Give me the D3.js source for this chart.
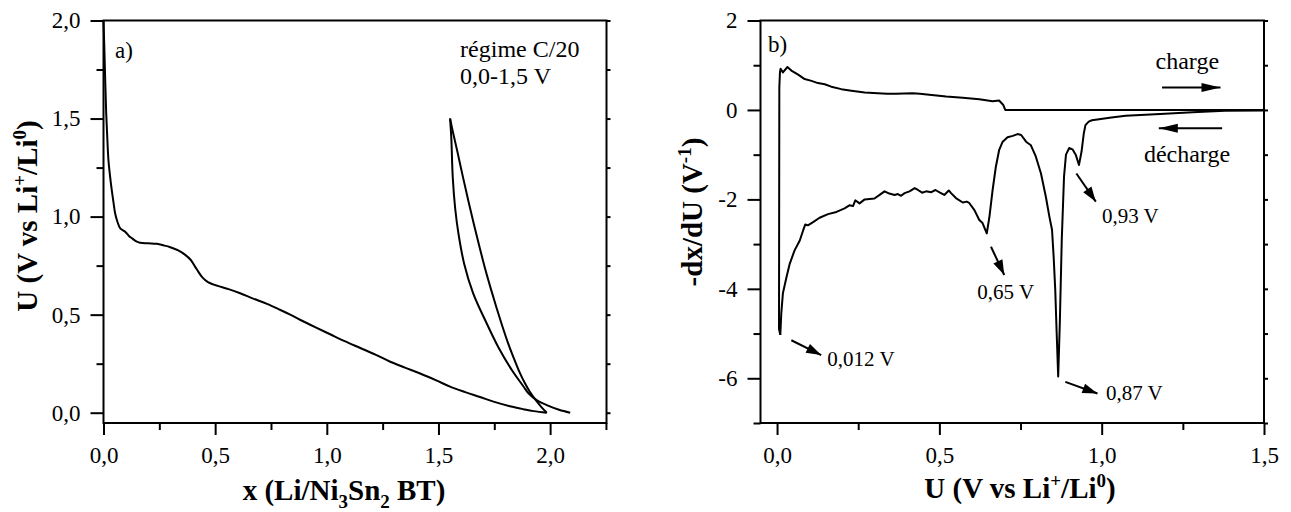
<!DOCTYPE html>
<html>
<head>
<meta charset="utf-8">
<script src="https://cdn.jsdelivr.net/npm/d3@7"></script>
<style>
  html, body { margin: 0; padding: 0; background: #fff; }
  svg { display: block; }
  text { font-family: "Liberation Serif", "Times New Roman", serif; fill: #000; }
</style>
</head>
<body>
<svg id="chart" width="1291" height="512"></svg>
<script>
// ---------------- DATA ----------------
// Panel a) : galvanostatic curve U vs x
const firstDischarge = [
  [0,2.0],[0.004,1.85],[0.008,1.68],[0.012,1.53],[0.017,1.40],[0.022,1.29],[0.03,1.20],[0.037,1.135],
  [0.045,1.07],[0.052,1.017],[0.062,0.975],[0.075,0.94],[0.097,0.923],[0.115,0.90],[0.127,0.89],
  [0.145,0.875],[0.164,0.867],[0.2,0.864],[0.239,0.861],[0.27,0.853],[0.299,0.844],[0.335,0.828],
  [0.366,0.805],[0.39,0.78],[0.41,0.745],[0.425,0.718],[0.44,0.694],[0.455,0.677],[0.47,0.665],
  [0.508,0.648],[0.56,0.63],[0.612,0.609],[0.67,0.582],[0.732,0.555],[0.79,0.525],[0.836,0.50],
  [0.88,0.474],[0.95,0.435],[1.015,0.40],[1.08,0.365],[1.15,0.33],[1.22,0.295],[1.284,0.26],
  [1.35,0.23],[1.418,0.20],[1.49,0.165],[1.552,0.133],[1.62,0.105],[1.686,0.08],[1.75,0.055],
  [1.82,0.033],[1.88,0.018],[1.926,0.008],[1.985,0.0]
];
const firstCharge = [
  [1.985,0.0],[1.96,0.03],[1.935,0.065],[1.91,0.105],[1.885,0.155],[1.86,0.215],[1.835,0.285],
  [1.81,0.36],[1.785,0.445],[1.76,0.535],[1.735,0.63],[1.71,0.73],[1.685,0.84],[1.66,0.955],
  [1.635,1.075],[1.61,1.2],[1.585,1.33],[1.565,1.43],[1.552,1.50]
];
const secondDischarge = [
  [1.552,1.50],[1.555,1.45],[1.558,1.39],[1.564,1.2],[1.575,1.04],[1.59,0.91],[1.615,0.76],
  [1.655,0.61],[1.71,0.47],[1.77,0.33],[1.83,0.215],[1.88,0.135],[1.903,0.099],[1.945,0.06],[1.985,0.039],
  [2.04,0.015],[2.09,0.0]
];
const xTicksA = [0, 0.5, 1.0, 1.5, 2.0];
const xMinorA = [0.25, 0.75, 1.25, 1.75, 2.25];
const yTicksA = [0, 0.5, 1.0, 1.5, 2.0];
const yMinorA = [0.25, 0.75, 1.25, 1.75];

// Panel b) : derivative -dx/dU vs U
const dischargeDeriv = [
  [1.5,-0.01],[1.38,-0.02],[1.28,-0.05],[1.18,-0.09],[1.074,-0.13],[1.03,-0.17],[0.992,-0.21],
  [0.97,-0.23],[0.96,-0.26],[0.95,-0.34],[0.945,-0.52],[0.938,-0.93],[0.93,-1.23],[0.92,-1.0],
  [0.91,-0.88],[0.90,-0.85],[0.89,-1.0],[0.884,-1.49],[0.877,-2.91],[0.871,-4.77],[0.866,-5.96],
  [0.861,-4.92],[0.857,-4.03],[0.852,-3.28],[0.847,-2.68],[0.839,-2.39],[0.828,-1.94],[0.813,-1.42],
  [0.797,-1.04],[0.782,-0.79],[0.767,-0.71],[0.752,-0.56],[0.741,-0.54],[0.726,-0.58],[0.71,-0.61],
  [0.695,-0.71],[0.684,-0.90],[0.674,-1.27],[0.664,-1.79],[0.654,-2.4],[0.646,-2.76],[0.633,-2.53],
  [0.623,-2.46],[0.608,-2.24],[0.592,-2.08],[0.584,-2.05],[0.572,-2.07],[0.551,-1.97],[0.536,-1.86],
  [0.529,-1.80],[0.515,-1.90],[0.502,-1.85],[0.488,-1.79],[0.475,-1.84],[0.459,-1.82],[0.447,-1.85],
  [0.434,-1.79],[0.424,-1.75],[0.408,-1.82],[0.393,-1.86],[0.382,-1.92],[0.372,-1.88],[0.362,-1.90],
  [0.346,-1.87],[0.331,-1.82],[0.316,-1.90],[0.30,-1.98],[0.27,-2.0],[0.254,-2.09],[0.241,-2.02],
  [0.234,-2.15],[0.224,-2.13],[0.208,-2.20],[0.183,-2.28],[0.157,-2.33],[0.131,-2.41],[0.111,-2.51],
  [0.095,-2.58],[0.087,-2.56],[0.080,-2.70],[0.070,-2.92],[0.054,-3.14],[0.039,-3.44],[0.029,-3.74],
  [0.018,-4.1],[0.013,-4.55],[0.010,-5.03]
];
const chargeDeriv = [
  [0.010,-5.03],[0.006,-4.9],[0.007,0.5],[0.009,0.85],[0.011,0.92],[0.018,0.84],[0.032,0.96],
  [0.044,0.88],[0.065,0.79],[0.085,0.69],[0.106,0.65],[0.126,0.60],[0.147,0.575],[0.167,0.52],
  [0.198,0.465],[0.229,0.43],[0.27,0.39],[0.31,0.376],[0.34,0.36],[0.367,0.36],[0.39,0.37],
  [0.418,0.375],[0.44,0.36],[0.469,0.34],[0.521,0.30],[0.572,0.27],[0.623,0.24],[0.664,0.195],
  [0.684,0.21],[0.697,0.11],[0.703,0.0],[1.5,0.0]
];
const xTicksB = [0, 0.5, 1.0, 1.5];
const xMinorB = [0.25, 0.75, 1.25];
const yTicksB = [2, 0, -2, -4, -6];
const yMinorB = [1, -1, -3, -5, -7];

// Peak annotations: label, arrow start (U,v), arrow end (U,v), text anchor (U,v)
const peakLabels = ["0,012 V", "0,65 V", "0,87 V", "0,93 V"];
const peakArrows = [
  [0.044,-5.15, 0.136,-5.48, 0.155,-5.73],
  [0.659,-3.06, 0.700,-3.69, 0.617,-4.23],
  [0.888,-6.08, 0.987,-6.34, 1.013,-6.49],
  [0.922,-1.42, 0.982,-2.05, 1.001,-2.53]
];

// ---------------- DRAW ----------------
const svg = d3.select("#chart");
svg.append("rect").attr("width", 1291).attr("height", 512).attr("fill", "#fff");

// arrowhead drawn as a polygon at the end of each arrow line
function arrow(g, x1, y1, x2, y2, headLen, headW) {
  g.append("line").attr("x1", x1).attr("y1", y1).attr("x2", x2).attr("y2", y2)
    .attr("stroke", "#000").attr("stroke-width", 2);
  const ang = Math.atan2(y2 - y1, x2 - x1);
  const bx = x2 - headLen * Math.cos(ang), by = y2 - headLen * Math.sin(ang);
  const px = -Math.sin(ang) * headW / 2, py = Math.cos(ang) * headW / 2;
  g.append("path").attr("d", `M${x2},${y2}L${bx + px},${by + py}L${bx - px},${by - py}Z`).attr("fill", "#000");
}

const comma1 = d => d3.format(".1f")(d).replace(".", ",");

function panel(opts) {
  const { x0, x1, y0, y1, xDomain, yDomain, xTicks, xMinor, yTicks, yMinor, xFmt, yFmt } = opts;
  const x = d3.scaleLinear().domain(xDomain).range([x0, x1]);
  const y = d3.scaleLinear().domain(yDomain).range([y1, y0]);
  const g = svg.append("g");

  const bx = g.append("g").attr("transform", `translate(0,${y1})`);
  bx.append("g").call(d3.axisBottom(x).tickValues(xMinor).tickSize(7).tickFormat(""));
  bx.append("g").call(d3.axisBottom(x).tickValues(xTicks).tickSize(12).tickPadding(12).tickFormat(xFmt));
  const ly = g.append("g").attr("transform", `translate(${x0},0)`);
  ly.append("g").call(d3.axisLeft(y).tickValues(yMinor).tickSize(7).tickFormat(""));
  ly.append("g").call(d3.axisLeft(y).tickValues(yTicks).tickSize(13).tickPadding(10).tickFormat(yFmt));
  const ry = g.append("g").attr("transform", `translate(${x1},0)`);
  ry.append("g").call(d3.axisRight(y).tickValues(yTicks.concat(yMinor)).tickSize(4).tickFormat(""));

  g.selectAll(".domain").remove();
  g.selectAll(".tick line").attr("stroke", "#000").attr("stroke-width", 2);
  g.selectAll(".tick text")
    .style("font-family", '"Liberation Serif", "Times New Roman", serif')
    .style("font-size", "23px").attr("fill", "#000");

  g.append("rect").attr("x", x0).attr("y", y0).attr("width", x1 - x0).attr("height", y1 - y0)
    .attr("fill", "none").attr("stroke", "#000").attr("stroke-width", 2);
  return { x, y, g };
}

// ----- Panel a -----
const A = panel({
  x0: 103.5, x1: 606.5, y0: 20.5, y1: 423,
  xDomain: [0, 2.2525], yDomain: [-0.0525, 2.0],
  xTicks: xTicksA, xMinor: xMinorA, yTicks: yTicksA, yMinor: yMinorA,
  xFmt: comma1, yFmt: comma1
});
const lineA = d3.line().x(d => A.x(d[0])).y(d => A.y(d[1])).curve(d3.curveCatmullRom.alpha(0.5));
[firstDischarge, firstCharge, secondDischarge].forEach(s => {
  A.g.append("path").datum(s).attr("d", lineA)
    .attr("fill", "none").attr("stroke", "#000").attr("stroke-width", 2).attr("stroke-linejoin", "round");
});
A.g.append("text").attr("x", A.x(0.052)).attr("y", A.y(1.81)).style("font-size", "23px").text("a)");
A.g.append("text").attr("x", A.x(1.597)).attr("y", A.y(1.815)).style("font-size", "24px").text("régime C/20");
A.g.append("text").attr("x", A.x(1.597)).attr("y", A.y(1.677)).style("font-size", "24px").text("0,0-1,5 V");

const tA = A.g.append("text").attr("x", 344).attr("y", 500).attr("text-anchor", "middle")
  .style("font-size", "29px").style("font-weight", "bold");
tA.append("tspan").text("x (Li/Ni");
tA.append("tspan").attr("dy", 8).style("font-size", "19px").text("3");
tA.append("tspan").attr("dy", -8).text("Sn");
tA.append("tspan").attr("dy", 8).style("font-size", "19px").text("2");
tA.append("tspan").attr("dy", -8).text(" BT)");

const yA = A.g.append("text").attr("transform", "translate(37,216) rotate(-90)").attr("text-anchor", "middle")
  .style("font-size", "29px").style("font-weight", "bold");
yA.append("tspan").text("U (V vs Li");
yA.append("tspan").attr("dy", -11).style("font-size", "19px").text("+");
yA.append("tspan").attr("dy", 11).text("/Li");
yA.append("tspan").attr("dy", -11).style("font-size", "19px").text("0");
yA.append("tspan").attr("dy", 11).text(")");

// ----- Panel b -----
const B = panel({
  x0: 760.5, x1: 1264, y0: 20.5, y1: 423,
  xDomain: [-0.051, 1.5], yDomain: [-7, 2],
  xTicks: xTicksB, xMinor: xMinorB, yTicks: yTicksB, yMinor: yMinorB,
  xFmt: comma1, yFmt: d => String(d)
});
const lineB = d3.line().x(d => B.x(d[0])).y(d => B.y(d[1]));
[dischargeDeriv, chargeDeriv].forEach(s => {
  B.g.append("path").datum(s).attr("d", lineB)
    .attr("fill", "none").attr("stroke", "#000").attr("stroke-width", 2).attr("stroke-linejoin", "round");
});
B.g.append("text").attr("x", B.x(-0.028)).attr("y", B.y(1.30)).style("font-size", "23px").text("b)");

peakArrows.forEach((a, i) => {
  arrow(B.g, B.x(a[0]), B.y(a[1]), B.x(a[2]), B.y(a[3]), 15, 10);
  B.g.append("text").attr("x", B.x(a[4])).attr("y", B.y(a[5])).style("font-size", "21px").text(peakLabels[i]);
});
B.g.append("text").attr("x", B.x(1.166)).attr("y", B.y(0.919)).style("font-size", "24px").text("charge");
arrow(B.g, B.x(1.186), B.y(0.5), B.x(1.366), B.y(0.5), 19, 9);
B.g.append("text").attr("x", B.x(1.130)).attr("y", B.y(-1.157)).style("font-size", "24px").text("décharge");
arrow(B.g, B.x(1.371), B.y(-0.41), B.x(1.176), B.y(-0.41), 19, 9);

const tB = B.g.append("text").attr("x", 1020).attr("y", 498).attr("text-anchor", "middle")
  .style("font-size", "29px").style("font-weight", "bold");
tB.append("tspan").text("U (V vs Li");
tB.append("tspan").attr("dy", -11).style("font-size", "19px").text("+");
tB.append("tspan").attr("dy", 11).text("/Li");
tB.append("tspan").attr("dy", -11).style("font-size", "19px").text("0");
tB.append("tspan").attr("dy", 11).text(")");

const yB = B.g.append("text").attr("transform", "translate(702,212) rotate(-90)").attr("text-anchor", "middle")
  .style("font-size", "29px").style("font-weight", "bold");
yB.append("tspan").text("-dx/dU (V");
yB.append("tspan").attr("dy", -11).style("font-size", "19px").text("-1");
yB.append("tspan").attr("dy", 11).text(")");
</script>
</body>
</html>
